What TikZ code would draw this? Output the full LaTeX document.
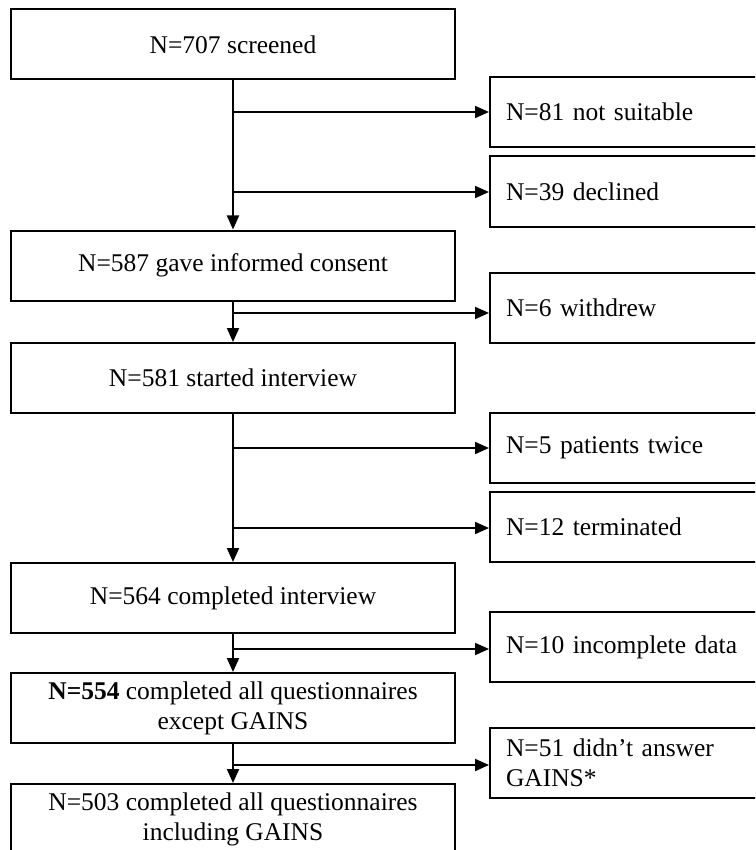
\documentclass[tikz,border=0pt]{standalone}
\usepackage{fontspec}
\setmainfont{Liberation Serif}
\usetikzlibrary{arrows.meta}

\begin{document}
\begin{tikzpicture}[x=1pt, y=-1pt,
    mainbox/.style={draw, line width=2pt, minimum width=444pt, minimum height=70pt,
      align=center, inner sep=0pt, font=\fontsize{25.5}{30}\selectfont},
    sidebox/.style={draw, line width=2pt, minimum height=70pt, text width=250pt,
      inner xsep=16pt, inner ysep=0pt, align=left, font=\fontsize{25.5}{30}\selectfont},
    flow/.style={line width=2pt, -{Triangle[length=14pt, width=12pt]}}]

  % The page is cut at 755 x 850; boxes on the right and at the bottom run past it.
  \clip (0,0) rectangle (755,850);

  % ---- Main column ----
  \node[mainbox] (screened)  at (233, 44.5) {N=707 screened};
  \node[mainbox] (consent)   at (233, 265.5) {N=587 gave informed consent};
  \node[mainbox] (started)   at (233, 378) {N=581 started interview};
  \node[mainbox] (completed) at (233, 598) {N=564 completed interview};
  \node[mainbox] (exceptg)   at (233, 708) {\textbf{N=554} completed all questionnaires\\ except GAINS};
  \node[mainbox] (inclg)     at (233, 819) {N=503 completed all questionnaires\\ including GAINS};

  % ---- Exclusions (right column, left edge at x=489) ----
  \node[sidebox, anchor=west] (notsuit)  at (489, 112) {N=81 not suitable};
  \node[sidebox, anchor=west] (declined) at (489, 191.5) {N=39 declined};
  \node[sidebox, anchor=west] (withdrew) at (489, 308) {N=6 withdrew};
  \node[sidebox, anchor=west] (twice)    at (489, 448) {N=5 patients twice};
  \node[sidebox, anchor=west] (termin)   at (489, 526.5) {N=12 terminated};
  \node[sidebox, anchor=west] (incompl)  at (489, 647) {N=10 incomplete data};
  \node[sidebox, anchor=west] (noanswer) at (489, 763) {N=51 didn't answer\\GAINS*};

  % ---- Branch points on the stem ----
  \coordinate (b1) at (screened.south |- 0,112);
  \coordinate (b2) at (screened.south |- 0,192);
  \coordinate (b3) at (consent.south |- 0,313);
  \coordinate (b4) at (started.south |- 0,448);
  \coordinate (b5) at (started.south |- 0,528);
  \coordinate (b6) at (completed.south |- 0,649);
  \coordinate (b7) at (exceptg.south |- 0,765);

  % ---- Down arrows ----
  \draw[flow] (screened) -- (consent);
  \draw[flow] (consent) -- (started);
  \draw[flow] (started) -- (completed);
  \draw[flow] (completed) -- (exceptg);
  \draw[flow] (exceptg) -- (inclg);

  % ---- Side arrows ----
  \draw[flow] (b1) -- (b1 -| notsuit.west);
  \draw[flow] (b2) -- (b2 -| declined.west);
  \draw[flow] (b3) -- (b3 -| withdrew.west);
  \draw[flow] (b4) -- (b4 -| twice.west);
  \draw[flow] (b5) -- (b5 -| termin.west);
  \draw[flow] (b6) -- (b6 -| incompl.west);
  \draw[flow] (b7) -- (b7 -| noanswer.west);

\end{tikzpicture}
\end{document}
